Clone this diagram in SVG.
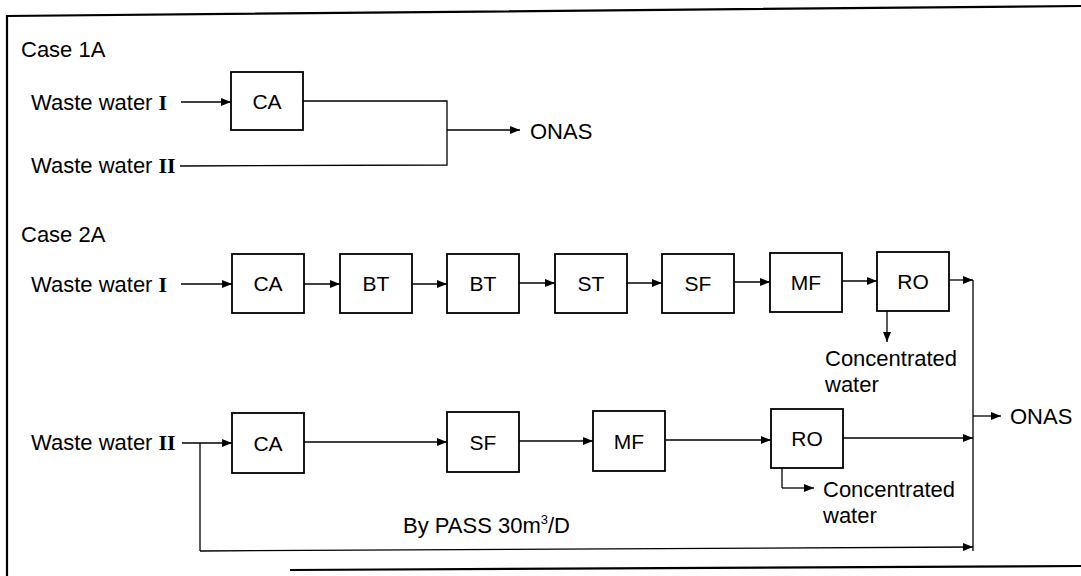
<svg xmlns="http://www.w3.org/2000/svg" width="1081" height="576" viewBox="0 0 1081 576">
<defs>
<marker id="ah" viewBox="0 0 10 8" refX="10" refY="4" markerWidth="10" markerHeight="8" markerUnits="userSpaceOnUse" orient="auto">
<path d="M0,0 L10,4 L0,8 Z" fill="#000"/>
</marker>
</defs>
<style>
text{font-family:"Liberation Sans",Arial,sans-serif;font-size:22px;fill:#000}
.rn{font-family:"Liberation Serif","Times New Roman",serif;font-weight:bold;font-size:22px}
.lbl{text-anchor:middle;font-size:21px}
.box{fill:#fff;stroke:#000;stroke-width:1.8}
.c{fill:none;stroke:#000;stroke-width:1.3}
.a{fill:none;stroke:#000;stroke-width:1.3;marker-end:url(#ah)}
.frame{fill:none;stroke:#000;stroke-width:2.2}
</style>
<rect width="1081" height="576" fill="#fff"/>
<g id="frame">
<path class="frame" d="M7,576 L7,16 L1081,6"/>
<path class="frame" d="M290,570 L1081,566"/>
</g>
<g id="titles">
<text x="21" y="57">Case 1A</text>
<text x="21" y="242">Case 2A</text>
</g>
<g id="sources">
<text id="ww1a" x="31" y="110">Waste water <tspan class="rn">I</tspan></text>
<text id="ww2a" x="31" y="173">Waste water <tspan class="rn">II</tspan></text>
<text id="ww1b" x="31" y="292">Waste water <tspan class="rn">I</tspan></text>
<text id="ww2b" x="31" y="450">Waste water <tspan class="rn">II</tspan></text>
</g>
<g id="n1a-CA"><rect class="box" x="231" y="72" width="72" height="58"/><text class="lbl" x="267" y="109">CA</text></g>
<g id="n2-CA"><rect class="box" x="232" y="254" width="72" height="59"/><text class="lbl" x="268" y="291">CA</text></g>
<g id="n2-BT1"><rect class="box" x="340" y="254" width="72" height="59"/><text class="lbl" x="376" y="291">BT</text></g>
<g id="n2-BT2"><rect class="box" x="447" y="254" width="72" height="59"/><text class="lbl" x="483" y="291">BT</text></g>
<g id="n2-ST"><rect class="box" x="555" y="254" width="72" height="59"/><text class="lbl" x="591" y="291">ST</text></g>
<g id="n2-SF"><rect class="box" x="662" y="254" width="72" height="59"/><text class="lbl" x="698" y="291">SF</text></g>
<g id="n2-MF"><rect class="box" x="770" y="253" width="72" height="59"/><text class="lbl" x="806" y="290">MF</text></g>
<g id="n2-RO"><rect class="box" x="877" y="252" width="72" height="59"/><text class="lbl" x="913" y="289">RO</text></g>
<g id="n3-CA"><rect class="box" x="232" y="413" width="72" height="60"/><text class="lbl" x="268" y="451">CA</text></g>
<g id="n3-SF"><rect class="box" x="447" y="412" width="72" height="60"/><text class="lbl" x="483" y="450">SF</text></g>
<g id="n3-MF"><rect class="box" x="593" y="411" width="72" height="60"/><text class="lbl" x="629" y="449">MF</text></g>
<g id="n3-RO"><rect class="box" x="771" y="409" width="72" height="59"/><text class="lbl" x="807" y="446">RO</text></g>
<g id="outputs">
<text x="530" y="139">ONAS</text>
<text x="1010" y="424">ONAS</text>
<text x="825" y="366">Concentrated</text>
<text x="825" y="392">water</text>
<text x="823" y="497">Concentrated</text>
<text x="823" y="523">water</text>
<text x="403" y="533">By PASS 30m<tspan font-size="13" dy="-9">3</tspan><tspan dy="9">/D</tspan></text>
</g>
<g id="connectors">
<path class="a" d="M181,102 L231,102"/>
<path class="c" d="M303,101 L447,101 L447,165 L180,166"/>
<path class="a" d="M447,130 L520,130"/>
<path class="a" d="M181,284 L232,284"/>
<path class="a" d="M304,284 L340,284"/>
<path class="a" d="M412,284 L447,284"/>
<path class="a" d="M519,283 L555,283"/>
<path class="a" d="M627,283 L662,283"/>
<path class="a" d="M734,282 L770,282"/>
<path class="a" d="M842,281 L877,281"/>
<path class="a" d="M949,280 L973,280"/>
<path class="a" d="M887,311 L887,342"/>
<path class="c" d="M973,280 L973,551"/>
<path class="a" d="M973,416 L1001,416"/>
<path class="a" d="M182,443 L232,443"/>
<path class="c" d="M200,443 L200,551"/>
<path class="a" d="M200,551 L973,547"/>
<path class="a" d="M304,442 L447,442"/>
<path class="a" d="M519,441 L593,441"/>
<path class="a" d="M665,440 L771,440"/>
<path class="a" d="M843,438 L973,438"/>
<path class="c" d="M782,468 L782,488"/>
<path class="a" d="M782,488 L814,488"/>
</g>
</svg>
